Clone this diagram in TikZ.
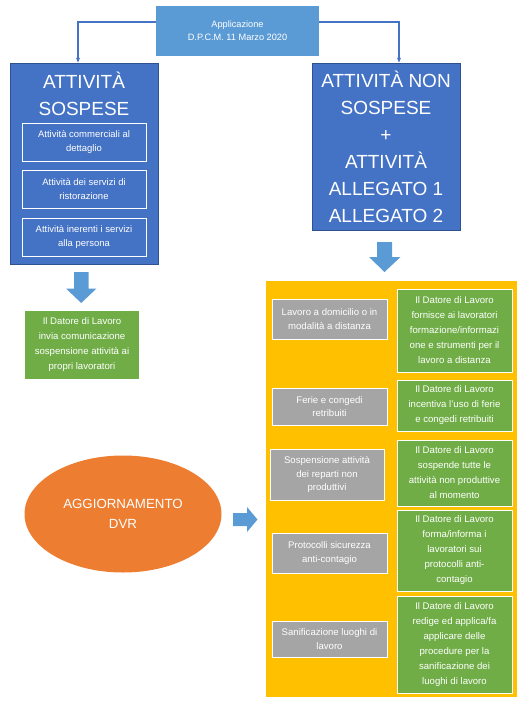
\documentclass[tikz,border=0pt]{standalone}
\usepackage{fontspec}
\setmainfont{Liberation Sans}
\usetikzlibrary{shapes.geometric,arrows.meta}
\definecolor{topblue}{HTML}{5B9BD5}
\definecolor{boxblue}{HTML}{4472C4}
\definecolor{boxborder}{HTML}{2F528F}
\definecolor{yel}{HTML}{FFC000}
\definecolor{gry}{HTML}{A5A5A5}
\definecolor{grn}{HTML}{70AD47}
\definecolor{orng}{HTML}{ED7D31}
\tikzset{
  small/.style={font=\fontsize{9.6}{15}\selectfont, text=white, align=center, inner sep=0pt},
  topbox/.style={small, fill=topblue, font=\fontsize{9.2}{13.3}\selectfont},
  bluebox/.style={fill=boxblue, draw=boxborder, line width=0.8pt, inner sep=0pt},
  bigtxt/.style={font=\fontsize{19}{27}\selectfont, text=white, align=center, inner sep=0pt},
  innerbox/.style={small, draw=white, line width=0.8pt, fill=boxblue, font=\fontsize{9.5}{13.5}\selectfont},
  graybox/.style={small, draw=white, line width=0.9pt, fill=gry, font=\fontsize{9.6}{13.5}\selectfont},
  greenbox/.style={small, draw=white, line width=0.9pt, fill=grn, font=\fontsize{9.6}{15}\selectfont},
  conn/.style={draw=boxblue, line width=1.3pt, -{Stealth[length=5pt,width=4pt]}},
  blockarrow/.style={fill=topblue, draw=none},
}
\begin{document}
\begin{tikzpicture}[x=1pt,y=-1pt]
\useasboundingbox (0,0) rectangle (527,705);
% top box
\node[topbox, minimum width=163pt, minimum height=50pt] (top) at (237.5,31) {Applicazione\\D.P.C.M. 11 Marzo 2020};
% left blue box
\node[bluebox, minimum width=148pt, minimum height=201pt] (lbox) at (84,163.5) {};
\node[bigtxt] (ltitle) at (84,93.5) {ATTIVITÀ\\SOSPESE};
\node[innerbox, minimum width=124pt, minimum height=38pt] (li1) at (84,142) {Attività commerciali al\\dettaglio};
\node[innerbox, minimum width=124pt, minimum height=38pt] (li2) at (84,189) {Attività dei servizi di\\ristorazione};
\node[innerbox, minimum width=124pt, minimum height=38pt] (li3) at (84,237) {Attività inerenti i servizi\\alla persona};
% right blue box
\node[bluebox, bigtxt, minimum width=148pt, minimum height=167pt] (rbox) at (386,146.5) {ATTIVITÀ NON\\SOSPESE\\+\\ATTIVITÀ\\ALLEGATO 1\\ALLEGATO 2};
% connectors
\coordinate (lc) at (78,22);
\coordinate (rc) at (399,22);
\draw[conn] (top.west |- lc) -- (lc) -- (lc |- lbox.north);
\draw[conn] (top.east |- rc) -- (rc) -- (rc |- rbox.north);
% block arrows
\fill[blockarrow] (74,272) -- (88.5,272) -- (88.5,288.5) -- (96.5,288.5) -- (81.2,303) -- (66,288.5) -- (74,288.5) -- cycle;
\fill[blockarrow] (377,242) -- (392,242) -- (392,257) -- (400.5,257) -- (384.5,272) -- (369,257) -- (377,257) -- cycle;
\fill[blockarrow] (233,513) -- (247,513) -- (247,507) -- (257.5,519.5) -- (247,532) -- (247,526) -- (233,526) -- cycle;
% left green
\node[greenbox, draw=none, minimum width=114pt, minimum height=68pt] (lg) at (82,345) {Il Datore di Lavoro\\invia comunicazione\\sospensione attività ai\\propri lavoratori};
% ellipse
\node[ellipse, fill=orng, minimum width=197pt, minimum height=117pt, inner sep=0pt, text=white, align=center, font=\fontsize{13.3}{20}\selectfont] (dvr) at (123,514) {AGGIORNAMENTO\\DVR};
% yellow panel
\node[fill=yel, minimum width=251pt, minimum height=416pt, inner sep=0pt] (panel) at (391.5,489) {};
% gray boxes
\node[graybox, minimum width=115pt, minimum height=40pt] (g1) at (329.5,319) {Lavoro a domicilio o in\\modalità a distanza};
\node[graybox, minimum width=115pt, minimum height=37pt] (g2) at (329.5,406.5) {Ferie e congedi\\retribuiti};
\node[graybox, minimum width=114pt, minimum height=51pt] (g3) at (327,474.5) {Sospensione attività\\dei reparti non\\produttivi};
\node[graybox, minimum width=115pt, minimum height=40pt] (g4) at (329.5,553) {Protocolli sicurezza\\anti-contagio};
\node[graybox, minimum width=115pt, minimum height=36pt] (g5) at (329.5,639) {Sanificazione luoghi di\\lavoro};
% green boxes
\node[greenbox, minimum width=115pt, minimum height=83pt] (n1) at (454.5,330.5) {Il Datore di Lavoro\\fornisce ai lavoratori\\formazione/informazi\\one e strumenti per il\\lavoro a distanza};
\node[greenbox, minimum width=115pt, minimum height=51pt] (n2) at (454.5,405.5) {Il Datore di Lavoro\\incentiva l’uso di ferie\\e congedi retribuiti};
\node[greenbox, minimum width=115pt, minimum height=66pt] (n3) at (454.5,473) {Il Datore di Lavoro\\sospende tutte le\\attività non produttive\\al momento};
\node[greenbox, minimum width=115pt, minimum height=81pt] (n4) at (454.5,550.5) {Il Datore di Lavoro\\forma/informa i\\lavoratori sui\\protocolli anti-\\contagio};
\node[greenbox, minimum width=115pt, minimum height=97pt] (n5) at (454.5,644.5) {Il Datore di Lavoro\\redige ed applica/fa\\applicare delle\\procedure per la\\sanificazione dei\\luoghi di lavoro};
\end{tikzpicture}
\end{document}
